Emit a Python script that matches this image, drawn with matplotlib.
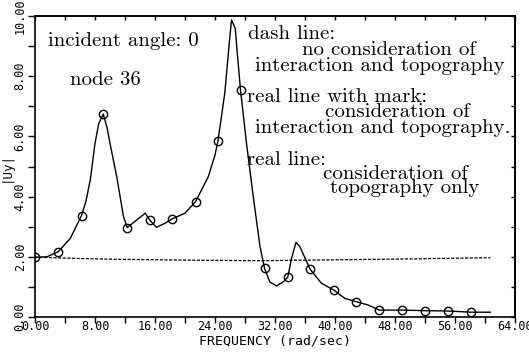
import numpy as np
import matplotlib
matplotlib.use('Agg')
import matplotlib.pyplot as plt
from matplotlib.ticker import MultipleLocator, FormatStrFormatter

# curve: real line with mark
curve_x = [0, 1.6, 3.1, 4.7, 6.2, 6.8, 7.4, 8.0, 8.5, 9.1, 9.6, 10.0, 10.9, 11.8, 12.3, 13.3,
           14.7, 15.3, 16.2, 17.3, 18.3, 20.0, 21.4, 23.1, 24.0, 24.4, 25.3, 25.9,
           26.2, 26.7, 26.9, 27.4, 28.2, 29.1, 30.0, 30.6, 31.3, 32.2, 33.1, 33.7,
           34.2, 34.8, 35.3, 36.7, 38.2, 39.8, 41.3, 42.8, 44.4, 45.9, 48.9, 52.0,
           55.0, 58.1, 60.7]
curve_y = [1.98, 2.0, 2.17, 2.61, 3.37, 3.85, 4.6, 5.77, 6.43, 6.74, 6.3, 5.77, 4.66, 3.33, 2.97, 3.17,
           3.45, 3.22, 2.98, 3.11, 3.26, 3.45, 3.83, 4.66, 5.38, 5.86, 7.43, 9.09,
           9.87, 9.59, 8.98, 7.54, 5.77, 4.0, 2.34, 1.62, 1.17, 1.03, 1.17, 1.32,
           1.95, 2.48, 2.34, 1.58, 1.12, 0.9, 0.62, 0.51, 0.4, 0.23, 0.23, 0.21,
           0.2, 0.16, 0.16]

# circle marks
mark_x = [0, 3.1, 6.2, 9.1, 12.3, 15.3, 18.3, 21.4, 24.4, 27.4, 30.6, 33.7, 36.7,
          39.8, 42.8, 45.9, 48.9, 52.0, 55.0, 58.1]
mark_y = [1.98, 2.17, 3.37, 6.74, 2.97, 3.22, 3.26, 3.83, 5.86, 7.54, 1.62, 1.32, 1.58,
          0.9, 0.51, 0.23, 0.23, 0.21, 0.2, 0.16]

# dash line
dash_x = [0, 5, 10, 20, 30, 40, 50, 60.7]
dash_y = [1.99, 1.95, 1.92, 1.89, 1.87, 1.9, 1.93, 1.97]

serif = 'cmr10'
mono = 'DejaVu Sans Mono'

fig = plt.figure(figsize=(5.29, 3.54), dpi=100)
ax = fig.add_axes([35 / 529, 1 - 317 / 354, 480 / 529, 301 / 354])

ax.plot(curve_x, curve_y, color='black', lw=1.0)
ax.plot(mark_x, mark_y, ls='none', marker='o', ms=6, mfc='none', mec='black', mew=1.0)
ax.plot(dash_x, dash_y, color='black', lw=0.9, ls=(0, (2.5, 1.2)))

ax.set_xlim(0, 64)
ax.set_ylim(0, 10)
ax.xaxis.set_major_locator(MultipleLocator(8))
ax.xaxis.set_minor_locator(MultipleLocator(4))
ax.yaxis.set_major_locator(MultipleLocator(2))
ax.yaxis.set_minor_locator(MultipleLocator(1))
ax.xaxis.set_major_formatter(FormatStrFormatter('%.2f'))
ax.yaxis.set_major_formatter(FormatStrFormatter('%.2f'))
ax.tick_params(which='both', direction='out', length=5, width=1.0, top=False, right=False)
ax.tick_params(axis='x', which='both', length=4, pad=-2)
ax.tick_params(axis='y', pad=1)
for lab in ax.get_xticklabels():
    lab.set_fontfamily(mono)
    lab.set_fontsize(8.5)
for lab in ax.get_yticklabels():
    lab.set_fontfamily(mono)
    lab.set_fontsize(8.5)
    lab.set_rotation(90)
    lab.set_va('center')

# inward ticks on top and right
top = ax.secondary_xaxis('top')
top.xaxis.set_major_locator(MultipleLocator(4))
top.tick_params(direction='in', length=3, width=1.0, labeltop=False)
right = ax.secondary_yaxis('right')
right.yaxis.set_major_locator(MultipleLocator(1))
right.tick_params(direction='in', length=3, width=1.0, labelright=False)
for sp in list(ax.spines.values()) + [top.spines['top'], right.spines['right']]:
    sp.set_linewidth(1.2)

ax.set_xlabel('FREQUENCY (rad/sec)', fontfamily=mono, fontsize=9.5, labelpad=1)
ax.set_ylabel('|Uy|', fontfamily=mono, fontsize=9, labelpad=1)

fs = 15
txt = dict(fontfamily=serif, fontsize=fs, va='baseline', ha='left')
ax.text(1.73, 9.0, 'incident angle: 0', **txt)
ax.text(4.67, 7.71, 'node 36', **txt)
ax.text(28.4, 9.24, 'dash line:', **txt)
ax.text(35.6, 8.70, 'no consideration of', **txt)
ax.text(29.3, 8.17, 'interaction and topography', **txt)
ax.text(28.3, 7.14, 'real line with mark:', **txt)
ax.text(38.7, 6.64, 'consideration of', **txt)
ax.text(29.3, 6.11, 'interaction and topography.', **txt)
ax.text(28.3, 5.05, 'real line:', **txt)
ax.text(38.4, 4.58, 'consideration of', **txt)
ax.text(39.3, 4.12, 'topography only', **txt)

fig.savefig('out.png', dpi=100)
